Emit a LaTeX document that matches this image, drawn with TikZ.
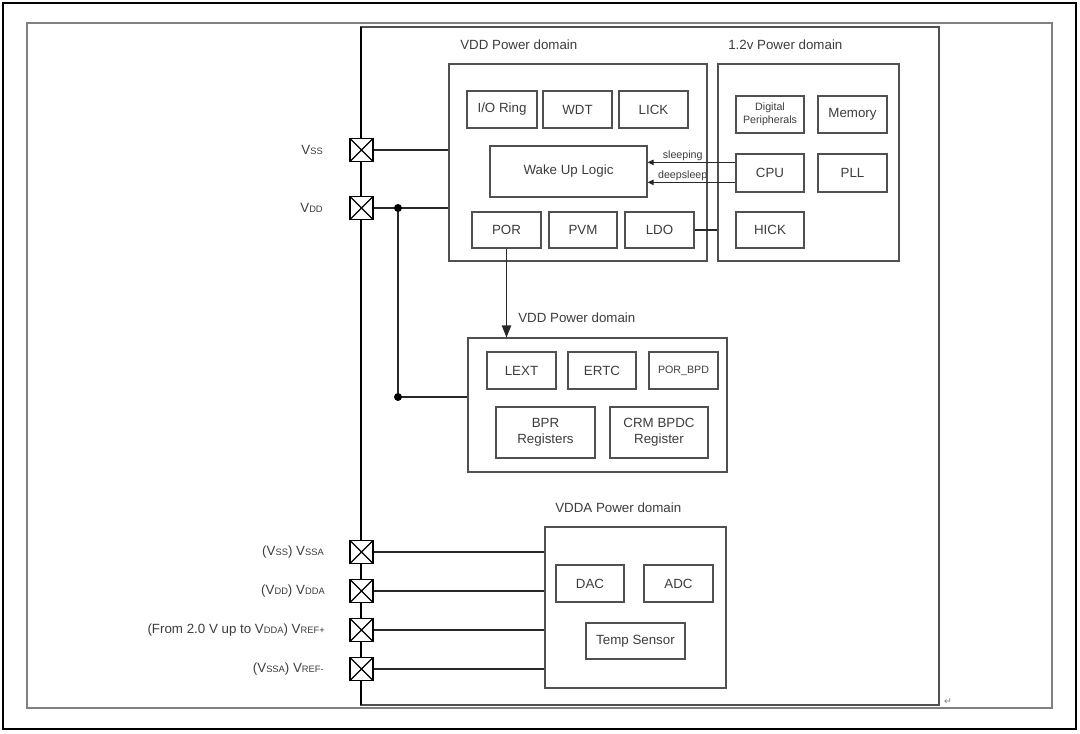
\documentclass[tikz,border=0pt]{standalone}
\usepackage{fontspec}
\setmainfont{Liberation Sans}
\newfontfamily\symfont{DejaVu Sans}
\usetikzlibrary{arrows.meta, positioning}
\definecolor{boxgray}{RGB}{80,80,80}
\definecolor{wiregray}{RGB}{40,40,40}
\definecolor{txtgray}{RGB}{60,60,60}
\newcommand{\padsub}[1]{{\fontsize{7}{8}\selectfont #1}}

\begin{document}
\begin{tikzpicture}[x=0.75pt, y=-0.75pt,
  blk/.style 2 args={draw=boxgray, line width=0.8pt, inner sep=0pt, align=center,
    text=txtgray, font=\fontsize{10}{12}\selectfont,
    minimum width=#1*0.75pt, minimum height=#2*0.75pt},
  smalltxt/.style={font=\fontsize{8}{9.5}\selectfont},
  title/.style={anchor=west, inner sep=0pt, text=txtgray, font=\fontsize{10}{12}\selectfont},
  padlbl/.style={anchor=east, inner sep=0pt, text=txtgray, font=\fontsize{10}{12}\selectfont},
  pad/.style={draw=black, fill=white, line width=1.2pt, inner sep=0pt,
    minimum size=23*0.75pt,
    path picture={\draw[line width=0.9pt]
      (path picture bounding box.south west) -- (path picture bounding box.north east)
      (path picture bounding box.north west) -- (path picture bounding box.south east);}},
  wire/.style={draw=wiregray, line width=0.8pt},
  sig/.style={wire, -{Triangle[length=4.5pt, width=4pt]}}]
\useasboundingbox (0,0) rectangle (1080,733);

% page frames
\draw[black, line width=1.3pt] (3,3) rectangle (1076,729);
\draw[gray, line width=0.9pt] (27,23) rectangle (1052,708);

% chip outline
\draw[boxgray, line width=1pt] (361,27) rectangle (939,705);
\draw[black, line width=1.6pt] (361,27) -- (361,705);
\node[inner sep=0pt, text=gray, font=\symfont\fontsize{7}{7}\selectfont] (ret) at (948,702) {↵};

% VDD power domain
\node[blk={258}{197}] (dom1) at (578,162.5) {};
\node[title] (t1) at (460,45) {VDD Power domain};
\node[blk={70}{37}] (io) at (502,109.5) {I/O Ring};
\node[blk={69}{37}] (wdt) at (577.5,109.5) {WDT};
\node[blk={69}{37}] (lick) at (653.5,109.5) {LICK};
\node[blk={157}{51}] (wake) at (568.5,171.5) {Wake Up Logic};
\node[blk={69}{36}] (por) at (506.5,230) {POR};
\node[blk={68}{36}] (pvm) at (583,230) {PVM};
\node[blk={69}{36}] (ldo) at (659.5,230) {LDO};

% 1.2v power domain
\node[blk={181}{197}] (dom12) at (808.5,162.5) {};
\node[title] (t2) at (728,45) {1.2v Power domain};
\node[blk={68}{37}, smalltxt] (digi) at (770,114.5) {Digital\\Peripherals};
\node[blk={69}{37}] (mem) at (852.5,114.5) {Memory};
\node[blk={68}{38}] (cpu) at (770,173) {CPU};
\node[blk={69}{38}] (pll) at (852.5,173) {PLL};
\node[blk={68}{36}] (hick) at (770,230) {HICK};

% backup VDD domain
\node[blk={259}{134}] (dom2) at (597.5,405) {};
\node[title] (t3) at (518,318) {VDD Power domain};
\node[blk={69}{37}] (lext) at (521.5,370.5) {LEXT};
\node[blk={68}{37}] (ertc) at (602,370.5) {ERTC};
\node[blk={69}{37}, smalltxt] (porbpd) at (683.5,370.5) {POR\_BPD};
\node[blk={99}{51}] (bpr) at (545.5,432.5) {BPR\\Registers};
\node[blk={98}{51}] (crm) at (659,432.5) {CRM BPDC\\Register};

% VDDA power domain
\node[blk={181}{161}] (dom3) at (635.5,607.5) {};
\node[title] (t4) at (555,508) {VDDA Power domain};
\node[blk={68}{37}] (dac) at (590,583.5) {DAC};
\node[blk={69}{37}] (adc) at (678.5,583.5) {ADC};
\node[blk={99}{36}] (temp) at (635.5,641) {Temp Sensor};

% pads
\node[pad] (vss) at (361.5,150) {};
\node[pad] (vdd) at (361.5,208) {};
\node[pad] (vssa) at (361.5,552) {};
\node[pad] (vdda) at (361.5,591) {};
\node[pad] (vrefp) at (361.5,630) {};
\node[pad] (vrefn) at (361.5,669) {};

\node[padlbl] (lvss) at (323,150) {V\padsub{SS}};
\node[padlbl] (lvdd) at (323,208) {V\padsub{DD}};
\node[padlbl] (lvssa) at (324,552) {(V\padsub{SS}) V\padsub{SSA}};
\node[padlbl] (lvdda) at (325,591) {(V\padsub{DD}) V\padsub{DDA}};
\node[padlbl] (lvrefp) at (325,630) {(From 2.0 V up to V\padsub{DDA}) V\padsub{REF+}};
\node[padlbl] (lvrefn) at (324,669) {(V\padsub{SSA}) V\padsub{REF-}};

% supply wiring
\coordinate (j1) at (398,208);
\coordinate (j2) at (398,397);
\draw[wire] (vss.east) -- (vss.east -| dom1.west);
\draw[wire] (vdd.east) -- (vdd.east -| dom1.west);
\draw[wire] (j1) -- (j2) -- (j2 -| dom2.west);
\fill (j1) circle (3pt);
\fill (j2) circle (3pt);
\foreach \p in {vssa, vdda, vrefp, vrefn}
  \draw[wire] (\p.east) -- (\p.east -| dom3.west);

% internal signals
\coordinate (s1) at ([yshift=8pt]cpu.west);
\coordinate (s2) at ([yshift=-7pt]cpu.west);
\draw[sig] (s1) -- (s1 -| wake.east)
  node[pos=0.6, above=0.5pt, inner sep=0.5pt, text=txtgray, smalltxt] {sleeping};
\draw[sig] (s2) -- (s2 -| wake.east)
  node[pos=0.6, above=0.5pt, inner sep=0.5pt, text=txtgray, smalltxt] {deepsleep};
\draw[wire] (ldo.east) -- (ldo.east -| dom12.west);
\draw[wire, -{Triangle[length=9pt, width=7pt]}] (por.south) -- (por.south |- dom2.north);
\end{tikzpicture}
\end{document}
